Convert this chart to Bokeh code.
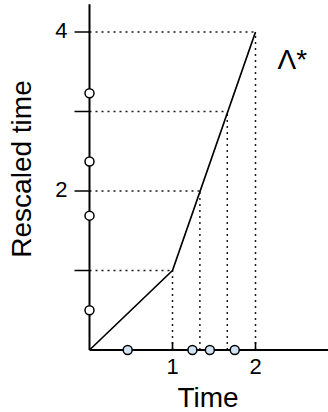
import math
from bokeh.plotting import figure
from bokeh.models import Range1d
from bokeh.core.properties import value
from bokeh.embed import file_html
from bokeh.resources import INLINE

# ---- data ----
curve_time = [0.0, 1.0, 2.0]           # time
curve_rescaled = [0.0, 1.0, 4.0]       # Lambda*(time)

guide_levels = [1.0, 2.0, 3.0, 4.0]    # rescaled-time levels with dotted guides
guide_times = [1.0, 1.33, 1.66, 2.0]   # time where the curve reaches each level

rescaled_events = [0.50, 1.69, 2.37, 3.23]  # open circles on the vertical axis
time_events = [0.46, 1.24, 1.45, 1.75]      # blue circles on the horizontal axis

x_ticks = [1, 2]
x_tick_labels = ["1", "2"]
y_ticks = [1, 2, 3, 4]
y_label_ticks = [2, 4]
y_tick_labels = ["2", "4"]

FONT = value("Liberation Sans")

# view window (data units shown across the whole canvas)
x0, x1 = -1.0723, 2.8795
y0, y1 = -0.7862, 4.3962
y_axis_top = 4.35

p = figure(width=328, height=412, output_backend="svg", toolbar_location=None,
           x_range=Range1d(x0, x1), y_range=Range1d(y0, y1), title=None,
           x_axis_location=None, y_axis_location=None, min_border=0)
p.outline_line_color = None
p.background_fill_color = "white"
p.border_fill_color = "white"
p.grid.visible = False

zeros = [0.0] * len(guide_levels)
# dotted guides
p.segment(x0=zeros, y0=guide_levels, x1=guide_times, y1=guide_levels,
          line_color="#1a1a1a", line_width=1.5, line_dash="2 4")
p.segment(x0=guide_times, y0=zeros, x1=guide_times, y1=guide_levels,
          line_color="#1a1a1a", line_width=1.5, line_dash="2 4")

# axis lines
p.segment(x0=[0.0, 0.0], y0=[0.0, 0.0], x1=[x1, 0.0], y1=[0.0, y_axis_top],
          line_color="black", line_width=2)
# ticks (screen-length rays)
p.ray(x=[0.0] * len(y_ticks), y=y_ticks, length=15, length_units="screen",
      angle=math.pi, line_color="black", line_width=1.6)
p.ray(x=x_ticks, y=[0.0] * len(x_ticks), length=8, length_units="screen",
      angle=math.pi / 2, line_color="black", line_width=1.6)

# tick labels
p.text(x=[0.0] * len(y_label_ticks), y=y_label_ticks, text=y_tick_labels,
       x_offset=-22, y_offset=-1, text_font=FONT, text_font_size=value("22px"),
       text_align="right", text_baseline="alphabetic", text_color="black")
p.text(x=x_ticks, y=[0.0] * len(x_ticks), text=x_tick_labels,
       x_offset=0, y_offset=17, text_font=FONT, text_font_size=value("22px"),
       text_align="center", text_baseline="alphabetic", text_color="black")

# main curve
p.line(curve_time, curve_rescaled, line_color="black", line_width=1.7)

# events
p.scatter([0.0] * len(rescaled_events), rescaled_events, size=9,
          fill_color="white", line_color="black", line_width=1.5)
p.scatter(time_events, [0.0] * len(time_events), size=9,
          fill_color="#d0e3f4", line_color="black", line_width=1.5)

# axis titles and curve label
p.text(x=[1.428], y=[-0.754], text=["Time"], text_font=FONT,
       text_font_size=value("28px"), text_align="center", y_offset=-12,
       text_baseline="alphabetic", text_color="black")
p.text(x=[-0.687], y=[2.277], text=["Rescaled time"], text_font=FONT,
       text_font_size=value("28px"), text_align="center", x_offset=-11,
       text_baseline="alphabetic", angle=math.pi / 2, text_color="black")
p.text(x=[2.265], y=[3.516], text=["Λ*"], text_font=FONT,
       text_font_size=value("28px"), text_align="left", y_offset=-11,
       text_baseline="alphabetic", text_color="black")

open("out.html", "w").write(file_html(p, INLINE))
